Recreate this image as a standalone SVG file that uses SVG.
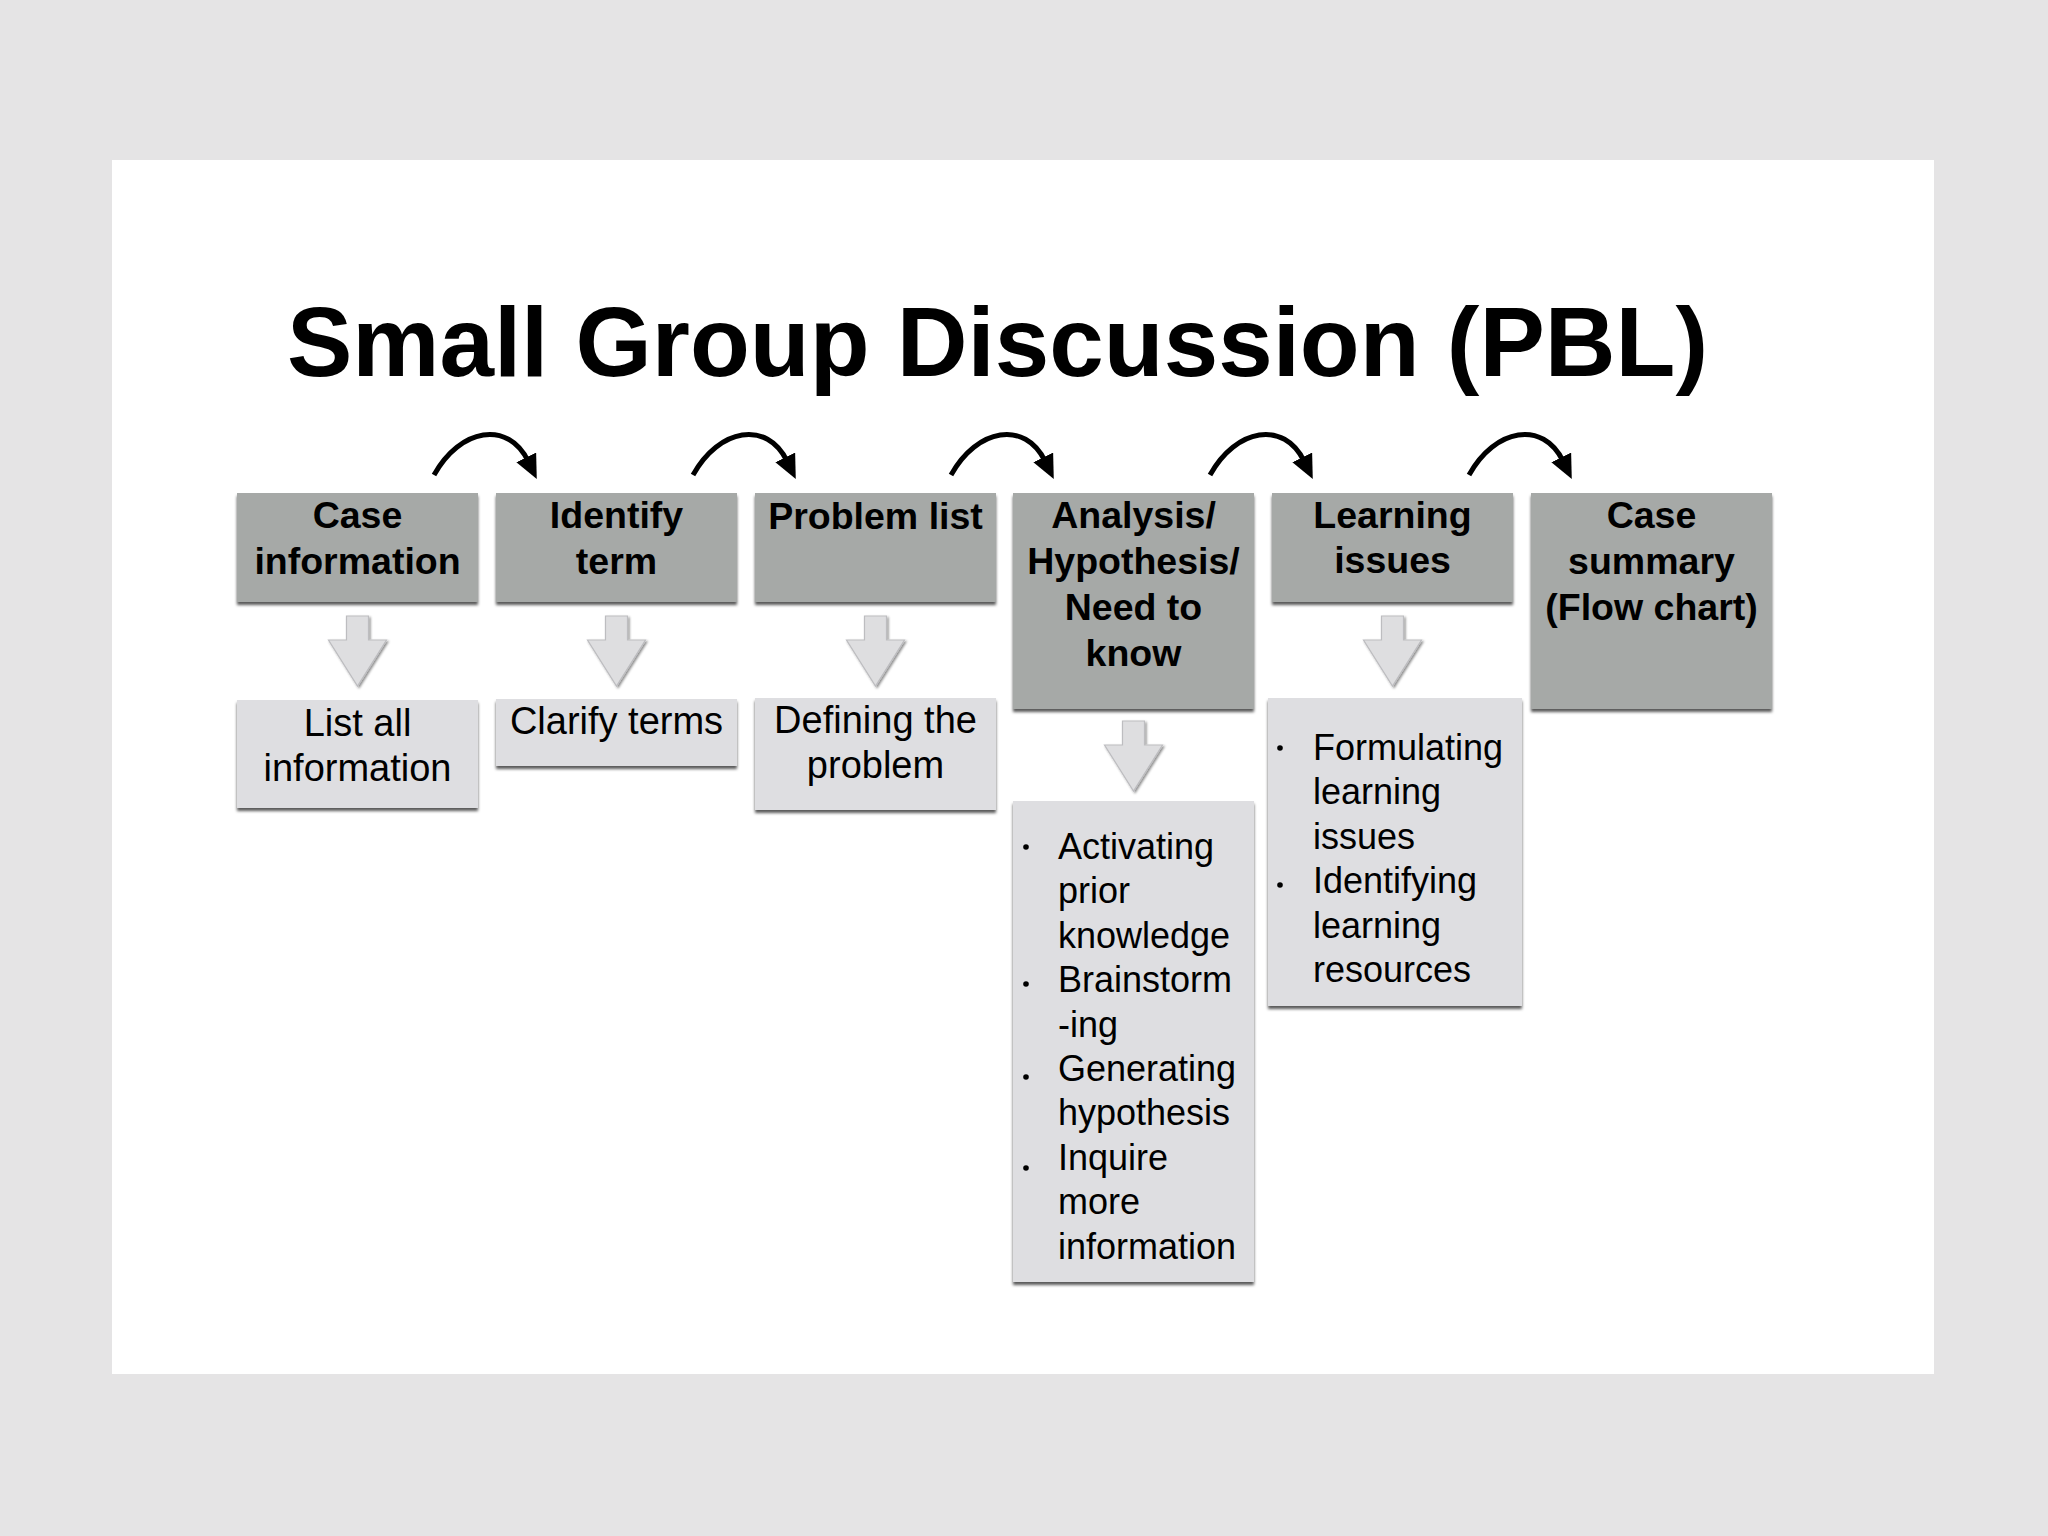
<svg xmlns="http://www.w3.org/2000/svg" width="2048" height="1536" viewBox="0 0 2048 1536">
  <defs>
    <filter id="shadow" x="-10%" y="-10%" width="120%" height="130%">
      <feDropShadow dx="0" dy="3" stdDeviation="1.6" flood-color="#000" flood-opacity="0.65"/>
    </filter>
    <filter id="ashadow" x="-20%" y="-20%" width="150%" height="150%">
      <feDropShadow dx="1.5" dy="1.5" stdDeviation="1.2" flood-color="#000" flood-opacity="0.45"/>
    </filter>
    <marker id="ah" markerUnits="userSpaceOnUse" markerWidth="28" markerHeight="24" refX="4" refY="11" orient="auto">
      <path d="M0,0 L24,11 L0,22 z" fill="#000"/>
    </marker>
    <path id="blk" d="M-11,0 H11 V24 H29 L0,70 L-29,24 H-11 Z"/>
  </defs>
  <style>
    .hdr { fill: #a6a9a7; filter: url(#shadow); }
    .sub { fill: #dedee1; filter: url(#shadow); }
    .ht { font-family: "Liberation Sans", Arial, sans-serif; font-weight: bold; font-size: 37.5px; fill: #000; text-anchor: middle; }
    .st { font-family: "Liberation Sans", Arial, sans-serif; font-size: 38px; fill: #000; text-anchor: middle; }
    .bt { font-family: "Liberation Sans", Arial, sans-serif; font-size: 36px; fill: #000; }
    .dot { fill: #000; }
    .blk { fill: #dedee0; stroke: #bdbdc0; stroke-width: 1.2; filter: url(#ashadow); }
    .curve { fill: none; stroke: #000; stroke-width: 5; marker-end: url(#ah); }
  </style>

  <rect x="0" y="0" width="2048" height="1536" fill="#e5e4e5"/>
  <rect x="112" y="160" width="1822" height="1214" fill="#ffffff"/>

  <text x="997.5" y="376" font-family="Liberation Sans, Arial, sans-serif" font-weight="bold" font-size="98" text-anchor="middle" fill="#000">Small Group Discussion (PBL)</text>

  <g id="connectors">
    <path class="curve" d="M434,475 C460,428 508,420 528,461"/>
    <path class="curve" d="M693,475 C719,428 767,420 787,461"/>
    <path class="curve" d="M951,475 C977,428 1025,420 1045,461"/>
    <path class="curve" d="M1210,475 C1236,428 1284,420 1304,461"/>
    <path class="curve" d="M1469,475 C1495,428 1543,420 1563,461"/>
    <use href="#blk" class="blk" x="357.5" y="616"/>
    <use href="#blk" class="blk" x="616.5" y="616"/>
    <use href="#blk" class="blk" x="875.5" y="616"/>
    <use href="#blk" class="blk" x="1133.5" y="721"/>
    <use href="#blk" class="blk" x="1392.5" y="616"/>
  </g>

  <g id="case-information">
    <rect class="hdr" x="237" y="493" width="241" height="109"/>
    <text class="ht" x="357.5" y="528">Case</text>
    <text class="ht" x="357.5" y="574">information</text>
  </g>
  <g id="identify-term">
    <rect class="hdr" x="496" y="493" width="241" height="109"/>
    <text class="ht" x="616.5" y="528">Identify</text>
    <text class="ht" x="616.5" y="574">term</text>
  </g>
  <g id="problem-list">
    <rect class="hdr" x="755" y="493" width="241" height="109"/>
    <text class="ht" x="875.5" y="529">Problem list</text>
  </g>
  <g id="analysis">
    <rect class="hdr" x="1013" y="493" width="241" height="216"/>
    <text class="ht" x="1133.5" y="528">Analysis/</text>
    <text class="ht" x="1133.5" y="574">Hypothesis/</text>
    <text class="ht" x="1133.5" y="620">Need to</text>
    <text class="ht" x="1133.5" y="666">know</text>
  </g>
  <g id="learning-issues">
    <rect class="hdr" x="1272" y="493" width="241" height="109"/>
    <text class="ht" x="1392.5" y="528">Learning</text>
    <text class="ht" x="1392.5" y="573">issues</text>
  </g>
  <g id="case-summary">
    <rect class="hdr" x="1531" y="493" width="241" height="216"/>
    <text class="ht" x="1651.5" y="528">Case</text>
    <text class="ht" x="1651.5" y="574">summary</text>
    <text class="ht" x="1651.5" y="620">(Flow chart)</text>
  </g>

  <g id="list-all-information">
    <rect class="sub" x="237" y="700" width="241" height="108"/>
    <text class="st" x="357.5" y="736">List all</text>
    <text class="st" x="357.5" y="781">information</text>
  </g>
  <g id="clarify-terms">
    <rect class="sub" x="496" y="699" width="241" height="67"/>
    <text class="st" x="616.5" y="734">Clarify terms</text>
  </g>
  <g id="defining-the-problem">
    <rect class="sub" x="755" y="698" width="241" height="112"/>
    <text class="st" x="875.5" y="733">Defining the</text>
    <text class="st" x="875.5" y="778">problem</text>
  </g>
  <g id="analysis-details">
    <rect class="sub" x="1013" y="801" width="241" height="481"/>
    <circle class="dot" cx="1026" cy="847" r="2.8"/>
    <circle class="dot" cx="1026" cy="984" r="2.8"/>
    <circle class="dot" cx="1026" cy="1077" r="2.8"/>
    <circle class="dot" cx="1026" cy="1168" r="2.8"/>
    <text class="bt" x="1058" y="859">Activating</text>
    <text class="bt" x="1058" y="903.4">prior</text>
    <text class="bt" x="1058" y="947.8">knowledge</text>
    <text class="bt" x="1058" y="992.2">Brainstorm</text>
    <text class="bt" x="1058" y="1036.6">-ing</text>
    <text class="bt" x="1058" y="1081">Generating</text>
    <text class="bt" x="1058" y="1125.4">hypothesis</text>
    <text class="bt" x="1058" y="1169.8">Inquire</text>
    <text class="bt" x="1058" y="1214.2">more</text>
    <text class="bt" x="1058" y="1258.6">information</text>
  </g>
  <g id="learning-details">
    <rect class="sub" x="1268" y="698" width="254" height="308"/>
    <circle class="dot" cx="1280" cy="748" r="2.8"/>
    <circle class="dot" cx="1280" cy="885" r="2.8"/>
    <text class="bt" x="1313" y="760">Formulating</text>
    <text class="bt" x="1313" y="804.4">learning</text>
    <text class="bt" x="1313" y="848.8">issues</text>
    <text class="bt" x="1313" y="893.2">Identifying</text>
    <text class="bt" x="1313" y="937.6">learning</text>
    <text class="bt" x="1313" y="982">resources</text>
  </g>
</svg>
